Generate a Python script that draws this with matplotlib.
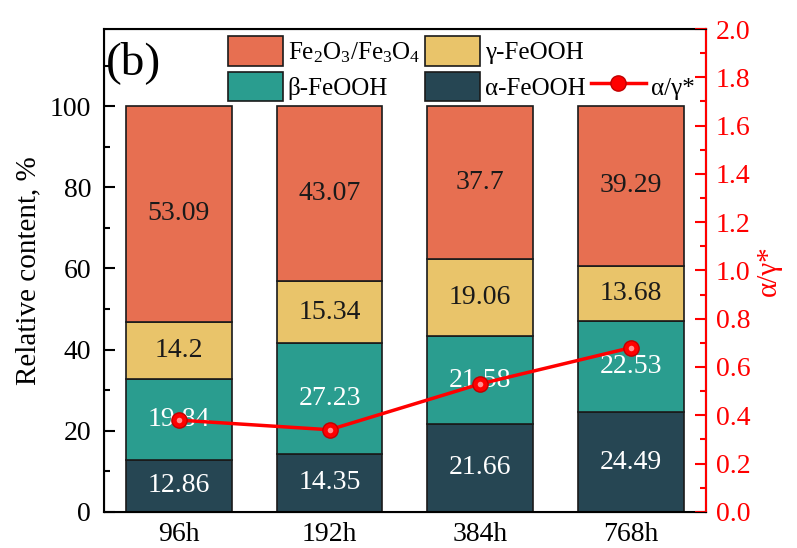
import numpy as np
import matplotlib
matplotlib.use("Agg")
import matplotlib.pyplot as plt
from matplotlib.patches import Patch
from matplotlib.ticker import MultipleLocator

times = ["96h", "192h", "384h", "768h"]
alpha = [12.86, 14.35, 21.66, 24.49]
beta = [19.84, 27.23, 21.58, 22.53]
gamma = [14.2, 15.34, 19.06, 13.68]
fe_oxides = [53.09, 43.07, 37.7, 39.29]
ratio = [0.38, 0.34, 0.53, 0.68]

plt.rcParams['font.family'] = ['Liberation Serif', 'DejaVu Serif']
plt.rcParams['mathtext.fontset'] = 'custom'
plt.rcParams['mathtext.rm'] = 'Liberation Serif'
plt.rcParams['mathtext.it'] = 'Liberation Serif:italic'


def main():
    fig = plt.figure(figsize=(7.97, 5.48), dpi=100)
    ax = fig.add_axes([0.130, 0.066, 0.756, 0.881])
    x = np.arange(len(times))
    width = 0.7

    layers = [
        (alpha, "#264653", "white", "α-FeOOH"),
        (beta, "#2A9D8F", "white", "β-FeOOH"),
        (gamma, "#E9C46A", "#1a1a1a", "γ-FeOOH"),
        (fe_oxides, "#E76F51", "#1a1a1a", r"Fe$_2$O$_3$/Fe$_3$O$_4$"),
    ]
    bottom = np.zeros(len(times))
    handles = {}
    for vals, color, tcolor, label in layers:
        vals = np.array(vals)
        ax.bar(x, vals, width, bottom=bottom, color=color,
               edgecolor="#1a1a1a", linewidth=1.2, zorder=2)
        for xi, b, v in zip(x, bottom, vals):
            ax.text(xi, b + v / 2, f"{v:g}", ha="center", va="center",
                    fontsize=20, color=tcolor, zorder=3)
        handles[label] = Patch(facecolor=color, edgecolor="#1a1a1a", linewidth=1.2)
        bottom += vals

    ax.set_xlim(-0.5, 3.5)
    ax.set_ylim(0, 119)
    ax.set_xticks(x, times)
    ax.yaxis.set_major_locator(plt.FixedLocator([0, 20, 40, 60, 80, 100]))
    ax.yaxis.set_minor_locator(plt.FixedLocator([10, 30, 50, 70, 90, 110]))
    ax.tick_params(axis="both", direction="in", labelsize=20, width=1.5)
    ax.tick_params(axis="y", which="major", length=8, pad=9)
    ax.tick_params(axis="y", which="minor", length=4, width=1.5, direction="in")
    ax.tick_params(axis="x", length=6, pad=7)
    ax.set_ylabel("Relative content, %", fontsize=21, labelpad=6)
    for s in ax.spines.values():
        s.set_linewidth(1.5)

    ax2 = ax.twinx()
    red = "#FF0000"
    line, = ax2.plot(x, ratio, color=red, linewidth=2.5, marker="o",
                     markersize=11, markerfacecolor=red,
                     markeredgecolor="#C00000", zorder=5)
    # little highlight on the balls
    ax2.plot(x, ratio, linestyle="none", marker="o", markersize=4,
             markerfacecolor="#FF9090", markeredgecolor="none", zorder=6)
    ax2.set_ylim(0, 2.0)
    ax2.yaxis.set_major_locator(MultipleLocator(0.2))
    ax2.yaxis.set_minor_locator(MultipleLocator(0.1))
    ax2.tick_params(axis="y", which="both", direction="in", colors=red,
                    labelsize=20, width=1.5, pad=7)
    ax2.tick_params(axis="y", which="major", length=8)
    ax2.tick_params(axis="y", which="minor", length=4)
    ax2.spines["right"].set_color(red)
    ax2.spines["right"].set_linewidth(1.5)
    ax2.set_ylabel("α/γ*", color=red, fontsize=21, labelpad=4)
    ax2.set_yticklabels([f"{v:.1f}" for v in ax2.get_yticks()])

    ax.text(0.004, 0.975, "(b)", transform=ax.transAxes, fontsize=34,
            ha="left", va="top")

    empty = Patch(facecolor="none", edgecolor="none")
    leg_handles = [handles[r"Fe$_2$O$_3$/Fe$_3$O$_4$"], handles["β-FeOOH"],
                   handles["γ-FeOOH"], handles["α-FeOOH"], empty, line]
    leg_labels = [r"Fe$_2$O$_3$/Fe$_3$O$_4$", "β-FeOOH", "γ-FeOOH",
                  "α-FeOOH", "", "α/γ*"]
    ax2.legend(leg_handles, leg_labels, ncol=3, loc="upper left",
               bbox_to_anchor=(0.181, 1.017), frameon=False, fontsize=18,
               handlelength=2.2, handleheight=1.45, columnspacing=0.2,
               handletextpad=0.2, labelspacing=0.25, borderaxespad=0.2)

    fig.savefig("out.png", dpi=100)


if __name__ == "__main__":
    main()
